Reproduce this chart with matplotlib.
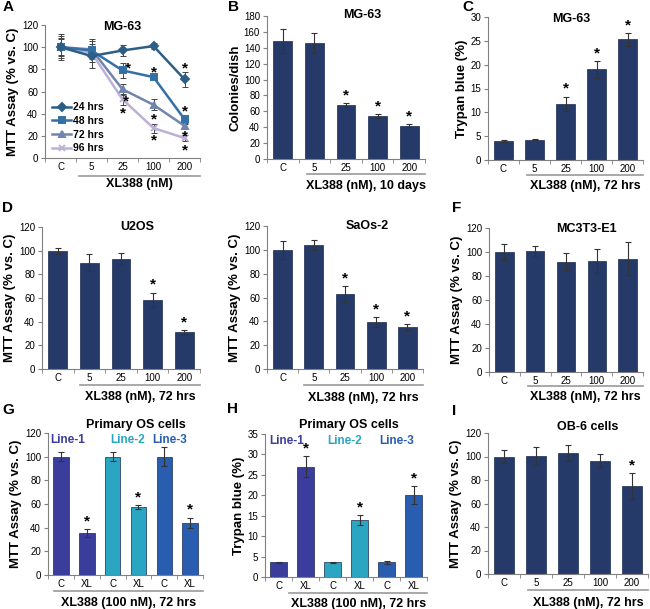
import numpy as np
import matplotlib
matplotlib.use("Agg")
import matplotlib.pyplot as plt

plt.rcParams['font.family'] = ['Liberation Sans', 'DejaVu Sans']

W, H = 650, 609
NAVY = '#253a68'
SPINE = '#808080'

# ---------------- data ----------------
doses = ['C', '5', '25', '100', '200']

# A: MTT time course, MG-63
a_series = ['24 hrs', '48 hrs', '72 hrs', '96 hrs']
a_mean = [[100, 92, 97, 101, 71],
          [100, 97, 79, 73, 35],
          [100, 98, 62, 48, 29],
          [100, 95, 53, 27, 18]]
a_err = [[12, 11, 5, 3, 7],
         [8, 10, 7, 2, 4],
         [10, 8, 5, 5, 3],
         [7, 6, 5, 4, 3]]
a_colors = ['#2d5f86', '#3470a6', '#7085ae', '#bcb0d6']
a_markers = ['D', 's', '^', 'x']
# significance stars in A (category index, value)
a_star_x = [2.18, 2.11, 2.0, 3.0, 3.0, 3.0, 4.0, 4.0, 4.0, 4.0]
a_star_y = [84, 54, 43, 80, 38, 19, 84, 45, 22, 10]

# B: colonies
b_mean = [149, 146, 68, 54, 42]
b_err = [15, 12, 2, 2.5, 1.5]
b_star = [False, False, True, True, True]

# C: trypan blue
c_mean = [4.0, 4.3, 11.8, 19.0, 25.3]
c_err = [0.3, 0.2, 1.5, 1.8, 1.3]
c_star = [False, False, True, True, True]

# D: U2OS
d_mean = [100, 90, 93, 58.5, 31]
d_err = [2.5, 7.5, 5, 6, 2]
d_star = [False, False, False, True, True]

# E: SaOs-2
e_mean = [100, 104, 63, 39.5, 35]
e_err = [7.5, 4, 6.5, 4, 2.5]
e_star = [False, False, True, True, True]

# F: MC3T3-E1
f_mean = [100, 100.5, 92, 92.5, 94.5]
f_err = [7, 4.5, 7, 10, 14]
f_star = [False] * 5

# G/H: primary OS cells
prim_labels = ['C', 'XL', 'C', 'XL', 'C', 'XL']
prim_lines = ['Line-1', 'Line-2', 'Line-3']
prim_colors = ['#3a3d9c', '#2aa5c2', '#285db0']
g_mean = [100, 35.5, 100, 57.5, 100, 44]
g_err = [4, 3.5, 4, 1.5, 8, 4.5]
g_star = [False, True, False, True, False, True]
h_mean = [3.6, 27, 3.6, 14, 3.6, 20]
h_err = [0.1, 2.5, 0.1, 1.2, 0.3, 2.2]
h_star = [False, True, False, True, False, True]

# I: OB-6 cells
i_mean = [100, 100.5, 103, 96.5, 75]
i_err = [5.5, 7.5, 6.5, 5.5, 11]
i_star = [False, False, False, False, True]

fig = plt.figure(figsize=(W / 100, H / 100), dpi=100)


def add_ax(left, top, right, bottom):
    return fig.add_axes([left / W, 1 - bottom / H, (right - left) / W, (bottom - top) / H])


def style(ax, labels, ymax, ystep, ylabel, title, tx, ty_px, ncat):
    ax.set_xlim(-0.5, ncat - 0.5)
    ax.set_ylim(0, ymax)
    ax.set_yticks(np.arange(0, ymax + 0.1, ystep))
    ax.set_xticks(range(ncat))
    ax.set_xticklabels(labels)
    ax.set_xticks(np.arange(-0.5, ncat, 1.0), minor=True)
    ax.tick_params(axis='x', which='major', length=0, labelsize=7, pad=3)
    ax.tick_params(axis='x', which='minor', length=3, color=SPINE)
    ax.tick_params(axis='y', length=3, color=SPINE, labelsize=7, pad=2)
    for s in ['top', 'right']:
        ax.spines[s].set_visible(False)
    for s in ['left', 'bottom']:
        ax.spines[s].set_color(SPINE)
    ax.set_ylabel(ylabel, fontsize=9.5, fontweight='bold', labelpad=2)
    h = ax.get_position().height * H
    ax.text(tx, 1 + ty_px / h, title, transform=ax.transAxes, ha='center',
            va='center', fontsize=9, fontweight='bold')


def underline(ax, x0, x1, label, line_px, label_px):
    h = ax.get_position().height * H
    tr = ax.get_xaxis_transform()
    ax.plot([x0, x1], [-line_px / h] * 2, color='#999999', lw=1.2,
            transform=tr, clip_on=False)
    ax.text((x0 + x1) / 2, -label_px / h, label, transform=tr, ha='center',
            va='center', fontsize=9, fontweight='bold')


def bars(ax, mean, err, star, colors, ymax):
    x = np.arange(len(mean))
    ax.bar(x, mean, width=0.6, color=colors, edgecolor='#1a2a50', linewidth=0.5)
    ax.errorbar(x, mean, yerr=err, fmt='none', ecolor='#333333', elinewidth=0.8,
                capsize=2, capthick=0.8)
    for xi, m, e, s in zip(x, mean, err, star):
        if s:
            ax.text(xi, m + e + ymax * 0.005, '*', ha='center', va='bottom',
                    fontsize=11, fontweight='bold')


def letter(txt, x, y):
    fig.text(x / W, 1 - y / H, txt, fontsize=11, fontweight='bold', va='center', ha='left')


# ---- A ----
ax = add_ax(45, 25, 200, 158)
xa = np.arange(5)
for k in range(4):
    ax.errorbar(xa, a_mean[k], yerr=a_err[k], fmt='none', ecolor='#444444',
                elinewidth=0.7, capsize=2, capthick=0.7, zorder=2)
for k in range(3, -1, -1):
    ax.plot(xa, a_mean[k], color=a_colors[k], lw=1.8, marker=a_markers[k],
            ms=5 if a_markers[k] == 'x' else 4, mew=1.4, label=a_series[k],
            zorder=3 + (3 - k))
for sx, sy in zip(a_star_x, a_star_y):
    ax.text(sx, sy - 3, '*', ha='center', va='center', fontsize=11, fontweight='bold')
style(ax, doses, 120, 20, 'MTT Assay (% vs. C)', 'MG-63', 0.5, -2, 5)
hnd, lab = ax.get_legend_handles_labels()
ax.legend(hnd[::-1], lab[::-1], loc='lower left', bbox_to_anchor=(0.0, -0.02),
          frameon=False, handlelength=1.8, handletextpad=0.2, labelspacing=0.35,
          borderpad=0.2, prop={'weight': 'bold', 'size': 7.5})
underline(ax, 0.6, 4.5, 'XL388 (nM)', 18, 26)
letter('A', 3, 7)

# ---- B ----
ax = add_ax(267, 16, 425, 159)
bars(ax, b_mean, b_err, b_star, NAVY, 180)
style(ax, doses, 180, 20, 'Colonies/dish', 'MG-63', 0.6, 1, 5)
underline(ax, 0.75, 4.5, 'XL388 (nM), 10 days', 15, 27)
letter('B', 228, 7)

# ---- C ----
ax = add_ax(488, 17, 643, 160)
bars(ax, c_mean, c_err, c_star, NAVY, 30)
style(ax, doses, 30, 5, 'Trypan blue (%)', 'MG-63', 0.54, -2, 5)
underline(ax, 0.75, 4.5, 'XL388 (nM), 72 hrs', 15, 26)
letter('C', 462, 7)

# ---- D ----
ax = add_ax(42, 227, 200, 369)
bars(ax, d_mean, d_err, d_star, NAVY, 120)
style(ax, doses, 120, 20, 'MTT Assay (% vs. C)', 'U2OS', 0.6, 0, 5)
underline(ax, 0.7, 4.5, 'XL388 (nM), 72 hrs', 16, 28)
letter('D', 2, 208)

# ---- E ----
ax = add_ax(267, 226, 423, 369)
bars(ax, e_mean, e_err, e_star, NAVY, 120)
style(ax, doses, 120, 20, 'MTT Assay (% vs. C)', 'SaOs-2', 0.64, 0, 5)
underline(ax, 0.7, 4.5, 'XL388 (nM), 72 hrs', 16, 29)

# ---- F ----
ax = add_ax(489, 228, 643, 372)
bars(ax, f_mean, f_err, f_star, NAVY, 120)
style(ax, doses, 120, 20, 'MTT Assay (% vs. C)', 'MC3T3-E1', 0.63, -1, 5)
underline(ax, 0.75, 4.5, 'XL388 (nM), 72 hrs', 14, 25)
letter('F', 452, 208)

# ---- G ----
bar_cols = [prim_colors[i // 2] for i in range(6)]
ax = add_ax(48, 433, 203, 575)
bars(ax, g_mean, g_err, g_star, bar_cols, 120)
style(ax, prim_labels, 120, 20, 'MTT Assay (% vs. C)', 'Primary OS cells', 0.57, 8, 6)
for lx, lab, col in zip([0.27, 2.6, 4.22], prim_lines, prim_colors):
    ax.text(lx, 114, lab, color=col, ha='center', va='center', fontsize=8.5,
            fontweight='bold')
underline(ax, -0.25, 5.5, 'XL388 (100 nM), 72 hrs', 16, 28)
letter('G', 2, 410)

# ---- H ----
ax = add_ax(265, 434, 427, 577)
bars(ax, h_mean, h_err, h_star, bar_cols, 35)
style(ax, prim_labels, 35, 5, 'Trypan blue (%)', 'Primary OS cells', 0.52, 9, 6)
for lx, lab, col in zip([0.3, 2.46, 4.39], prim_lines, prim_colors):
    ax.text(lx, 33.2, lab, color=col, ha='center', va='center', fontsize=8.5,
            fontweight='bold')
underline(ax, 0.4, 5.5, 'XL388 (100 nM), 72 hrs', 16, 27)
letter('H', 227, 409)

# ---- I ----
ax = add_ax(488, 433, 648, 574)
bars(ax, i_mean, i_err, i_star, NAVY, 120)
style(ax, doses, 120, 20, 'MTT Assay (% vs. C)', 'OB-6 cells', 0.62, 6, 5)
underline(ax, 0.75, 4.5, 'XL388 (nM), 72 hrs', 16, 29)
letter('I', 452, 411)

fig.savefig('out.png', dpi=100)
